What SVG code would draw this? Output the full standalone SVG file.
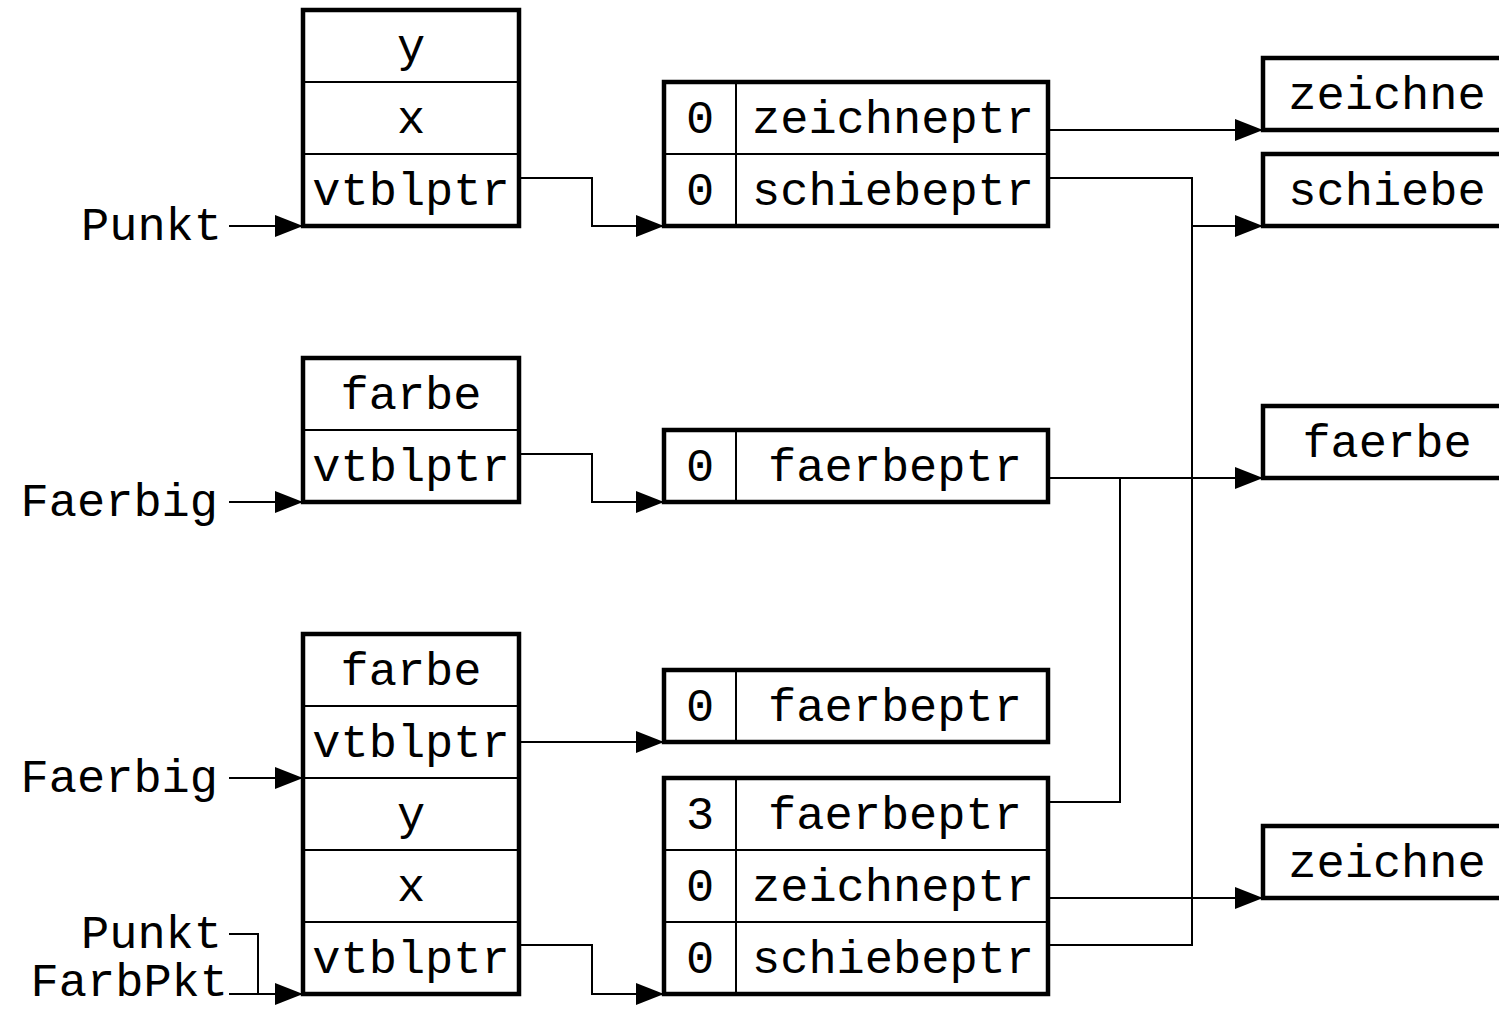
<svg xmlns="http://www.w3.org/2000/svg" width="1499" height="1010" viewBox="0 0 1499 1010">
  <style>
    text { font-family: "Liberation Mono", "DejaVu Sans Mono", monospace; font-size: 47px; fill: #000; }
    .c { text-anchor: middle; }
    .lbl { text-anchor: end; }
    .box { fill: #fff; stroke: #000; stroke-width: 4.5; }
    .sep { stroke: #000; stroke-width: 2; fill: none; }
    .wire { stroke: #000; stroke-width: 2; fill: none; }
    .arr { marker-end: url(#head); }
  </style>
  <defs>
    <marker id="head" markerUnits="userSpaceOnUse" markerWidth="30" markerHeight="24" refX="28" refY="11" orient="auto">
      <path d="M0,0 L28,11 L0,22 Z" fill="#000"/>
    </marker>
  </defs>
  <rect width="1499" height="1010" fill="#fff"/>

  <!-- object Punkt -->
  <g id="obj-punkt">
    <rect class="box" x="303" y="10" width="216" height="216"/>
    <line class="sep" x1="303" y1="82" x2="519" y2="82"/>
    <line class="sep" x1="303" y1="154" x2="519" y2="154"/>
    <text class="c" x="411" y="61">y</text>
    <text class="c" x="411" y="133">x</text>
    <text class="c" x="411" y="205">vtblptr</text>
  </g>

  <!-- vtable Punkt -->
  <g id="vtbl-punkt">
    <rect class="box" x="664" y="82" width="384" height="144"/>
    <line class="sep" x1="664" y1="154" x2="1048" y2="154"/>
    <line class="sep" x1="736" y1="82" x2="736" y2="226"/>
    <text class="c" x="700" y="133">0</text>
    <text class="c" x="700" y="205">0</text>
    <text class="c" x="893" y="133">zeichneptr</text>
    <text class="c" x="893" y="205">schiebeptr</text>
  </g>

  <!-- object Faerbig -->
  <g id="obj-faerbig">
    <rect class="box" x="303" y="358" width="216" height="144"/>
    <line class="sep" x1="303" y1="430" x2="519" y2="430"/>
    <text class="c" x="411" y="409">farbe</text>
    <text class="c" x="411" y="481">vtblptr</text>
  </g>

  <!-- vtable Faerbig -->
  <g id="vtbl-faerbig">
    <rect class="box" x="664" y="430" width="384" height="72"/>
    <line class="sep" x1="736" y1="430" x2="736" y2="502"/>
    <text class="c" x="700" y="481">0</text>
    <text class="c" x="895" y="481">faerbeptr</text>
  </g>

  <!-- object FarbPkt -->
  <g id="obj-farbpkt">
    <rect class="box" x="303" y="634" width="216" height="360"/>
    <line class="sep" x1="303" y1="706" x2="519" y2="706"/>
    <line class="sep" x1="303" y1="778" x2="519" y2="778"/>
    <line class="sep" x1="303" y1="850" x2="519" y2="850"/>
    <line class="sep" x1="303" y1="922" x2="519" y2="922"/>
    <text class="c" x="411" y="685">farbe</text>
    <text class="c" x="411" y="757">vtblptr</text>
    <text class="c" x="411" y="829">y</text>
    <text class="c" x="411" y="901">x</text>
    <text class="c" x="411" y="973">vtblptr</text>
  </g>

  <!-- vtable FarbPkt as Faerbig -->
  <g id="vtbl-farbpkt-faerbig">
    <rect class="box" x="664" y="670" width="384" height="72"/>
    <line class="sep" x1="736" y1="670" x2="736" y2="742"/>
    <text class="c" x="700" y="721">0</text>
    <text class="c" x="895" y="721">faerbeptr</text>
  </g>

  <!-- vtable FarbPkt as Punkt -->
  <g id="vtbl-farbpkt-punkt">
    <rect class="box" x="664" y="778" width="384" height="216"/>
    <line class="sep" x1="664" y1="850" x2="1048" y2="850"/>
    <line class="sep" x1="664" y1="922" x2="1048" y2="922"/>
    <line class="sep" x1="736" y1="778" x2="736" y2="994"/>
    <text class="c" x="700" y="829">3</text>
    <text class="c" x="700" y="901">0</text>
    <text class="c" x="700" y="973">0</text>
    <text class="c" x="895" y="829">faerbeptr</text>
    <text class="c" x="893" y="901">zeichneptr</text>
    <text class="c" x="893" y="973">schiebeptr</text>
  </g>

  <!-- functions -->
  <g id="fn-zeichne-1">
    <rect class="box" x="1263" y="58" width="250" height="72"/>
    <text class="c" x="1387" y="109">zeichne</text>
  </g>
  <g id="fn-schiebe">
    <rect class="box" x="1263" y="154" width="250" height="72"/>
    <text class="c" x="1387" y="205">schiebe</text>
  </g>
  <g id="fn-faerbe">
    <rect class="box" x="1263" y="406" width="250" height="72"/>
    <text class="c" x="1387" y="457">faerbe</text>
  </g>
  <g id="fn-zeichne-2">
    <rect class="box" x="1263" y="826" width="250" height="72"/>
    <text class="c" x="1387" y="877">zeichne</text>
  </g>

  <!-- pointer names -->
  <g id="labels">
    <text class="lbl" x="222" y="240">Punkt</text>
    <text class="lbl" x="218" y="516">Faerbig</text>
    <text class="lbl" x="218" y="792">Faerbig</text>
    <text class="lbl" x="222" y="948">Punkt</text>
    <text class="lbl" x="228" y="996">FarbPkt</text>
  </g>

  <g id="connectors">
    <!-- entry pointers -->
    <path class="wire arr" d="M229,226 H303"/>
    <path class="wire arr" d="M229,502 H303"/>
    <path class="wire arr" d="M229,778 H303"/>
    <path class="wire" d="M229,934 H258 V994"/>
    <path class="wire arr" d="M229,994 H303"/>
    <!-- vtbl pointers -->
    <path class="wire arr" d="M519,178 H592 V226 H664"/>
    <path class="wire arr" d="M519,454 H592 V502 H664"/>
    <path class="wire arr" d="M519,742 H664"/>
    <path class="wire arr" d="M519,945 H592 V994 H664"/>
    <!-- method pointers -->
    <path class="wire arr" d="M1048,130 H1263"/>
    <path class="wire" d="M1048,178 H1192 V945 H1048"/>
    <path class="wire arr" d="M1192,226 H1263"/>
    <path class="wire arr" d="M1048,478 H1263"/>
    <path class="wire" d="M1048,802 H1120 V478"/>
    <path class="wire arr" d="M1048,898 H1263"/>
  </g>
</svg>
